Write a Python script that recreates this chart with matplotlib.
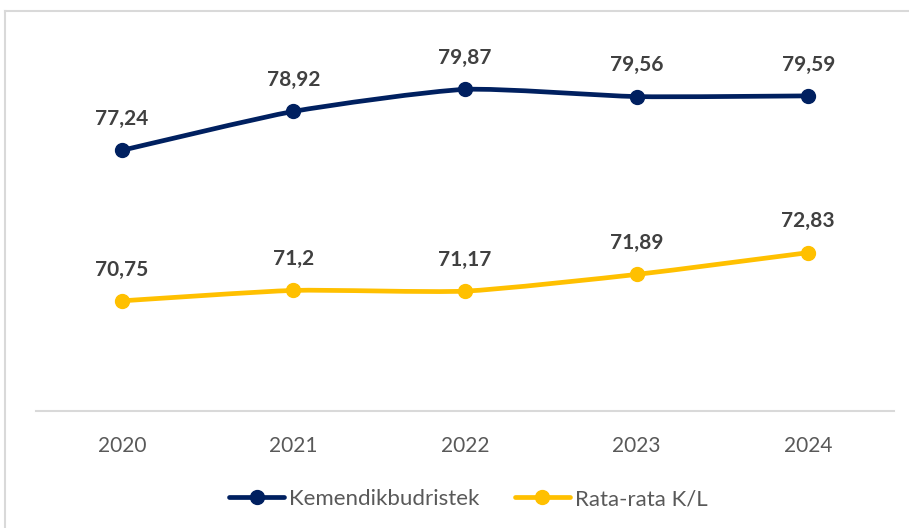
import matplotlib.pyplot as plt
import matplotlib.path as mpath
import matplotlib.patches as mpatches
from matplotlib.lines import Line2D
import numpy as np

plt.rcParams['font.family'] = ['Lato', 'DejaVu Sans']

years = ['2020', '2021', '2022', '2023', '2024']
kemendikbud = [77.24, 78.92, 79.87, 79.56, 79.59]
rata_rata = [70.75, 71.2, 71.17, 71.89, 72.83]
series_names = ['Kemendikbudristek', 'Rata-rata K/L']
colors = ['#002060', '#FFC000']


def smooth_path(xs, ys, k=10.0):
    # gently smoothed line: Catmull-Rom style segments as cubic beziers
    pts = np.column_stack([xs, ys])
    verts = [tuple(pts[0])]
    codes = [mpath.Path.MOVETO]
    n = len(pts)
    for i in range(n - 1):
        p0 = pts[max(i - 1, 0)]
        p1 = pts[i]
        p2 = pts[i + 1]
        p3 = pts[min(i + 2, n - 1)]
        c1 = p1 + (p2 - p0) / k
        c2 = p2 - (p3 - p1) / k
        verts += [tuple(c1), tuple(c2), tuple(p2)]
        codes += [mpath.Path.CURVE4] * 3
    return mpath.Path(verts, codes)


fig = plt.figure(figsize=(9.09, 5.28), dpi=100)
ax = fig.add_axes([36 / 909, (528 - 411) / 528, (894 - 36) / 909, (411 - 40) / 528])

x = np.arange(len(years))
for vals, c, name in zip([kemendikbud, rata_rata], colors, series_names):
    patch = mpatches.PathPatch(smooth_path(x, vals), facecolor='none', edgecolor=c,
                               lw=3.4, capstyle='round', zorder=2)
    ax.add_patch(patch)
    ax.plot(x, vals, ls='none', marker='o', ms=10, color=c, zorder=3)
    for xi, v in zip(x, vals):
        label = ('%g' % v).replace('.', ',')
        ax.annotate(label, (xi, v), xytext=(0, 22.5), textcoords='offset points',
                    ha='center', va='center', fontsize=15, fontweight='bold',
                    color='#404040')

ax.set_xlim(-0.5, 4.5)
ax.set_ylim(66, 82)
ax.set_xticks(x)
ax.set_xticklabels(years, fontsize=15, color='#595959')
ax.tick_params(axis='x', length=0, pad=18)
ax.set_yticks([])
for s in ['top', 'right', 'left']:
    ax.spines[s].set_visible(False)
ax.spines['bottom'].set_color('#d9d9d9')
ax.spines['bottom'].set_linewidth(1.5)

handles = [Line2D([], [], color=c, lw=3.4, marker='o', ms=10, solid_capstyle='round')
           for c in colors]
fig.legend(handles, series_names, loc='center', bbox_to_anchor=(468 / 909, 1 - 499 / 528),
           ncol=2, frameon=False, fontsize=16, handlelength=2.5, handletextpad=0.2,
           columnspacing=1.6, labelcolor='#595959')

# chart border (top and left visible in the crop)
fig.add_artist(Line2D([4.5 / 909, 1.0], [1 - 10.5 / 528] * 2, color='#d9d9d9', lw=1.5,
                      transform=fig.transFigure))
fig.add_artist(Line2D([4.5 / 909] * 2, [0, 1 - 10.5 / 528], color='#d9d9d9', lw=1.5,
                      transform=fig.transFigure))

fig.savefig('out.png', dpi=100)
